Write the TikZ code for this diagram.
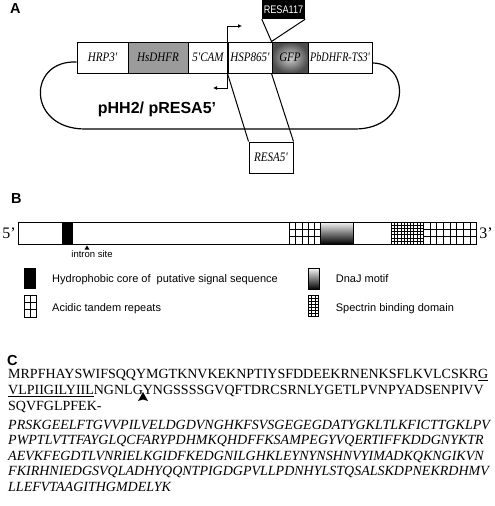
\documentclass[tikz,border=0pt]{standalone}
\usepackage{fontspec}
\setmainfont{Liberation Serif}
\setsansfont{Liberation Sans}
\newfontfamily\narrowserif[FakeStretch=0.85]{Liberation Serif}
\newfontfamily\tightserif[FakeStretch=0.78]{Liberation Serif}
\newfontfamily\narrowsans[FakeStretch=0.83]{Liberation Sans}
\usetikzlibrary{arrows.meta}

\definecolor{dhfrgray}{RGB}{155,155,155}

% repetitions acides : x1 y1 x2 y2 colonnes
\newcommand{\acidgrid}[5]{
    \draw[fill=white, line width=1pt] (#1,#2) rectangle (#3,#4);
    \foreach \col in {1,...,#5}
        \draw[line width=.6pt] ({#1+(#3-#1)*\col/#5},#2) -- ({#1+(#3-#1)*\col/#5},#4);
    \draw[line width=.6pt] (#1,{#2+(#4-#2)/3}) -- (#3,{#2+(#4-#2)/3});
    \draw[line width=.6pt] (#1,{#2+2*(#4-#2)/3}) -- (#3,{#2+2*(#4-#2)/3});
    \draw[line width=1pt] (#1,#2) rectangle (#3,#4);
}
% spectrine : x1 y1 x2 y2 colonnes lignes
\newcommand{\spectrgrid}[6]{
    \draw[fill=white, line width=1pt] (#1,#2) rectangle (#3,#4);
    \foreach \col in {1,...,#5}
        \draw[line width=.3pt] ({#1+(#3-#1)*\col/#5},#2) -- ({#1+(#3-#1)*\col/#5},#4);
    \foreach \row in {1,...,#6}
        \draw[line width=.3pt] (#1,{#2+(#4-#2)*\row/#6}) -- (#3,{#2+(#4-#2)*\row/#6});
    \draw[line width=1pt] (#1,#2) rectangle (#3,#4);
}
% motif DnaJ
\newcommand{\dnajbox}[4]{
    \shade[top color=gray!8, bottom color=black] (#1,#2) rectangle (#3,#4);
    \draw[line width=1pt] (#1,#2) rectangle (#3,#4);
}

\tikzset{
    seg/.style={draw, line width=1pt, minimum height=31, inner sep=0pt,
        font=\narrowserif\itshape\fontsize{13}{15}\selectfont},
    panel/.style={anchor=base west, inner sep=0pt, font=\sffamily\bfseries\fontsize{14.5}{16}\selectfont},
    legend/.style={anchor=base west, inner sep=0pt, font=\sffamily\fontsize{11}{13}\selectfont},
    seq/.style={anchor=base west, inner sep=0pt, font=\fontsize{14}{16}\selectfont},
    seqit/.style={seq, font=\fontsize{14}{16}\selectfont\itshape},
}

\begin{document}
\begin{tikzpicture}[x=1pt, y=-1pt]
    \useasboundingbox (0,0) rectangle (495,506);

    % A
    \node[panel] (lblA) at (10,13.5) {A};

    % construction
    \node[seg, minimum width=51] (hrp) at (102.5,57.5) {HRP3'};
    \node[seg, minimum width=60, fill=dhfrgray] (dhfr) at (158,57.5) {HsDHFR};
    \node[seg, minimum width=40] (cam) at (208,57.5) {5'CAM};
    \node[seg, minimum width=44] (hsp) at (250,57.5) {HSP865'};
    \node[seg, minimum width=36, shade, inner color=gray!35, outer color=black!70] (gfp) at (290,57.5) {GFP};
    \node[seg, minimum width=64, font=\tightserif\itshape\fontsize{13}{15}\selectfont] (pbd) at (340,57.5) {PbDHFR-TS3'};

    % plasmide
    \draw[line width=1.2pt] ([yshift=-4.5pt]hrp.west) .. controls (27,60) and (27,129) .. (85,129)
        -- (355,129) .. controls (411,129) and (411,63) .. ([yshift=-5.5pt]pbd.east);
    \node[anchor=base, font=\sffamily\bfseries\fontsize{16}{18}\selectfont] (pname) at (157,113) {pHH2/ pRESA5'};

    % promoteur
    \coordinate (tssl) at (213,88);
    \coordinate (tssr) at (242,26);
    \draw[line width=1pt, {Latex[length=4pt,width=4pt]}-{Latex[length=4pt,width=4pt]}]
        (tssl) -- (hsp.west |- tssl) -- (hsp.west |- tssr) -- (tssr);

    % RESA117
    \node[fill=black, text=white, font=\narrowsans\fontsize{11}{12}\selectfont,
        minimum width=43, minimum height=19, inner sep=0pt] (r117) at (283.5,9.5) {RESA117};
    \draw[line width=1pt] (r117.south west) -- (gfp.north west) -- (r117.south east);

    % RESA5'
    \node[seg, minimum width=44] (r5) at (271,157.5) {RESA5'};
    \draw[line width=1pt] (r5.north west) -- (hsp.south west);
    \draw[line width=1pt] (r5.north east) -- (gfp.south west);

    % B
    \node[panel] (lblB) at (11,203) {B};
    \node[draw, fill=white, line width=1pt, minimum width=458.4, minimum height=22, inner sep=0pt] (mrna) at (247.5,233) {};
    \fill (62,222) rectangle (73,244);
    \acidgrid{289.3}{222}{320.7}{244}{5}
    \dnajbox{320.7}{222}{353.3}{244}
    \spectrgrid{391}{222}{423.3}{244}{10}{7}
    \acidgrid{423.3}{222}{476.7}{244}{8}
    \node[anchor=east, inner sep=2pt, font=\fontsize{16}{18}\selectfont] (five) at (mrna.west) {5'};
    \node[anchor=west, inner sep=2pt, font=\fontsize{16}{18}\selectfont] (three) at (mrna.east) {3'};

    % intron
    \fill (87,245.5) -- (84.5,249.5) -- (89.5,249.5) -- cycle;
    \node[anchor=base, inner sep=0pt, font=\sffamily\fontsize{9.5}{11}\selectfont] (intron) at (92,257) {intron site};

    % legende
    \fill (24.3,268.3) rectangle (36,289.3);
    \node[legend] (lhyd) at (52,282.5) {Hydrophobic core of\ \ putative signal sequence};
    \acidgrid{24.3}{295}{36}{317}{2}
    \node[legend] (lacid) at (52,311) {Acidic tandem repeats};
    \dnajbox{308.3}{268.3}{319.3}{289.3}
    \node[legend] (ldnaj) at (335.7,282.5) {DnaJ motif};
    \spectrgrid{308.3}{295}{318.3}{316}{3}{7}
    \node[legend] (lspec) at (335.7,311) {Spectrin binding domain};

    % C
    \node[panel] (lblC) at (7,365) {C};
    \node[seq] (s1) at (8,378.5) {MRPFHAYSWIFSQQYMGTKNVKEKNPTIYSFDDEEKRNENKSFLKVLCSKR\underline{G}};
    \node[seq] (s2) at (8,394.5) {\underline{VLPIIGILYIIL}NGNLGYNGSSSSGVQFTDRCSRNLYGETLPVNPYADSENPIVV};
    \node[seq] (s3) at (8,410) {SQVFGLPFEK-};
    \node[seqit] (s4) at (8,429) {PRSKGEELFTGVVPILVELDGDVNGHKFSVSGEGEGDATYGKLTLKFICTTGKLPV};
    \node[seqit] (s5) at (8,444.5) {PWPTLVTTFAYGLQCFARYPDHMKQHDFFKSAMPEGYVQERTIFFKDDGNYKTR};
    \node[seqit] (s6) at (8,460) {AEVKFEGDTLVNRIELKGIDFKEDGNILGHKLEYNYNSHNVYIMADKQKNGIKVN};
    \node[seqit] (s7) at (8,475.5) {FKIRHNIEDGSVQLADHYQQNTPIGDGPVLLPDNHYLSTQSALSKDPNEKRDHMV};
    \node[seqit] (s8) at (8,491) {LLEFVTAAGITHGMDELYK};

    % clivage
    \fill (143,392) -- (148,401) -- (143,399.5) -- (138,401) -- cycle;
\end{tikzpicture}
\end{document}
